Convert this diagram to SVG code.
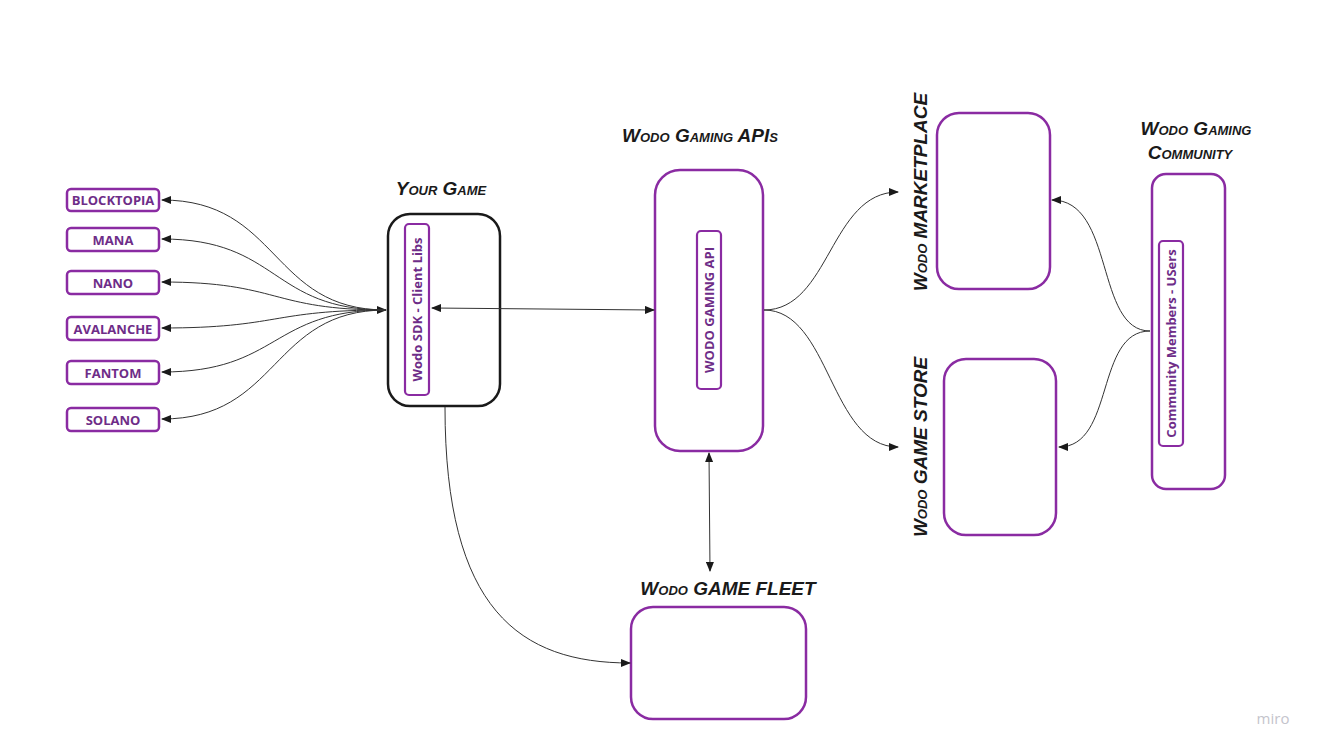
<svg xmlns="http://www.w3.org/2000/svg" width="1325" height="754" viewBox="0 0 1325 754">
<defs>
<marker id="ah" markerWidth="10" markerHeight="8" refX="9" refY="4" orient="auto-start-reverse" markerUnits="userSpaceOnUse">
<path d="M0,0 L10,4 L0,8 Z" fill="#1a1a1a"/>
</marker>
<style>
.pbox{fill:#fff;stroke:#8a2ba2;stroke-width:2.5}
.bbox{fill:#fff;stroke:#1a1a1a;stroke-width:2.5}
.inner{fill:#fff;stroke:#8a2ba2;stroke-width:2.2}
.lbl{font-family:"Open Sans","Noto Sans",sans-serif;font-weight:700;font-size:13px;fill:#6e2d88;text-anchor:middle;dominant-baseline:central}
.hand{font-family:"Liberation Sans",sans-serif;font-weight:700;font-style:italic;font-variant:small-caps;font-size:19px;fill:#1a1a1a;text-anchor:middle;dominant-baseline:central}
.conn{fill:none;stroke:#333;stroke-width:1}
</style>
</defs>
<rect width="1325" height="754" fill="#fff"/>

<g id="blocktopia"><rect class="pbox" x="67" y="189" width="92" height="22" rx="4"/><text class="lbl" x="113" y="200">BLOCKTOPIA</text></g>
<g id="mana"><rect class="pbox" x="67" y="228" width="92" height="23" rx="4"/><text class="lbl" x="113" y="239.5">MANA</text></g>
<g id="nano"><rect class="pbox" x="67" y="271" width="92" height="23" rx="4"/><text class="lbl" x="113" y="282.5">NANO</text></g>
<g id="avalanche"><rect class="pbox" x="67" y="317" width="92" height="23" rx="4"/><text class="lbl" x="113" y="328.5">AVALANCHE</text></g>
<g id="fantom"><rect class="pbox" x="67" y="361" width="92" height="23" rx="4"/><text class="lbl" x="113" y="372.5">FANTOM</text></g>
<g id="solano"><rect class="pbox" x="67" y="408" width="92" height="23" rx="4"/><text class="lbl" x="113" y="419.5">SOLANO</text></g>

<g id="your-game">
<text class="hand" x="441" y="188">Your Game</text>
<rect class="bbox" x="388" y="214" width="112" height="192" rx="22"/>
<rect class="inner" x="405" y="224" width="24" height="171" rx="4"/>
<text class="lbl" transform="translate(417,309.5) rotate(-90)">Wodo SDK - Client Libs</text>
</g>

<g id="gaming-apis">
<text class="hand" x="700" y="135">Wodo Gaming APIs</text>
<rect class="pbox" x="655" y="170" width="108" height="281" rx="25"/>
<rect class="inner" x="697" y="231" width="24" height="158" rx="4"/>
<text class="lbl" transform="translate(709,310) rotate(-90)">WODO GAMING API</text>
</g>

<g id="marketplace">
<text class="hand" transform="translate(920,192) rotate(-90)">Wodo MARKETPLACE</text>
<rect class="pbox" x="937" y="113" width="113" height="176" rx="22"/>
</g>

<g id="game-store">
<text class="hand" transform="translate(920,447) rotate(-90)">Wodo GAME STORE</text>
<rect class="pbox" x="944" y="359" width="112" height="176" rx="22"/>
</g>

<g id="community">
<text class="hand" x="1196" y="128">Wodo Gaming</text>
<text class="hand" x="1190" y="152">Community</text>
<rect class="pbox" x="1152" y="174" width="73" height="315" rx="14"/>
<rect class="inner" x="1159" y="241" width="24" height="205" rx="4"/>
<text class="lbl" transform="translate(1171,343.5) rotate(-90)">Community Members - USers</text>
</g>

<g id="game-fleet">
<text class="hand" x="728" y="588">Wodo GAME FLEET</text>
<rect class="pbox" x="631" y="607" width="175" height="112" rx="22"/>
</g>

<g id="connectors">
<path class="conn" marker-start="url(#ah)" marker-end="url(#ah)" d="M386,310 C270,310 280,200 162,200"/>
<path class="conn" marker-end="url(#ah)" d="M386,310 C270,310 280,239 162,239"/>
<path class="conn" marker-end="url(#ah)" d="M386,310 C270,310 280,282 162,282"/>
<path class="conn" marker-end="url(#ah)" d="M386,310 C270,310 280,328 162,328"/>
<path class="conn" marker-end="url(#ah)" d="M386,310 C270,310 280,372 162,372"/>
<path class="conn" marker-end="url(#ah)" d="M386,310 C270,310 280,419 162,419"/>
<path class="conn" marker-start="url(#ah)" marker-end="url(#ah)" d="M432,308 L654,310"/>
<path class="conn" marker-end="url(#ah)" d="M764,310 C830,310 830,192 898,192"/>
<path class="conn" marker-end="url(#ah)" d="M764,310 C830,310 830,447 898,447"/>
<path class="conn" marker-end="url(#ah)" d="M1150,331 C1095,331 1115,200 1052,200"/>
<path class="conn" marker-end="url(#ah)" d="M1150,331 C1095,331 1115,447 1059,447"/>
<path class="conn" marker-start="url(#ah)" marker-end="url(#ah)" d="M709,453 L710,571"/>
<path class="conn" marker-end="url(#ah)" d="M445,407 C445,610 520,663 630,663"/>
</g>

<text x="1273" y="718" style="font-family:'Open Sans','Noto Sans',sans-serif;font-size:15px;fill:#c4c4cc;text-anchor:middle;dominant-baseline:central">miro</text>
</svg>
